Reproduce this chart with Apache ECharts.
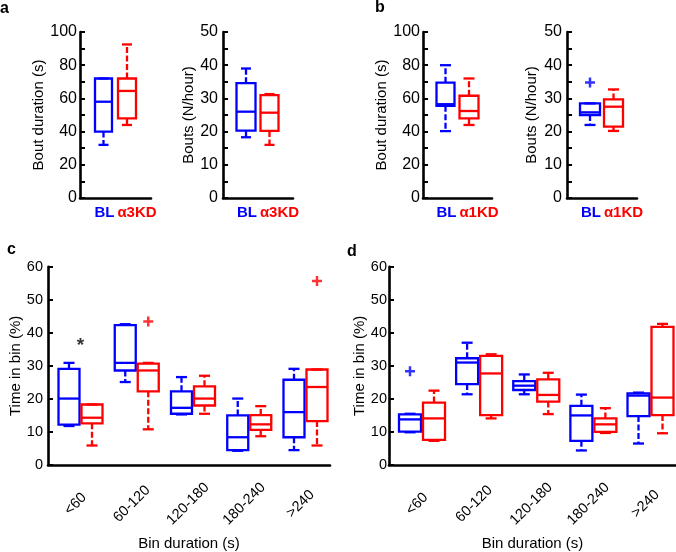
<!DOCTYPE html>
<html>
<head>
<meta charset="utf-8">
<script src="https://cdn.jsdelivr.net/npm/echarts@6/dist/echarts.min.js"></script>
<style>html,body{margin:0;padding:0;background:#fff;}#c{width:676px;height:552px;}</style>
</head>
<body>
<div id="c"></div>
<script>
// ---------- data: [min, q1, median, q3, max] ----------
const aCats = ['BL', 'α3KD'];
const bCats = ['BL', 'α1KD'];
const aDurBL = [32, 40, 58, 72, 72];
const aDurKD = [44, 48, 64.5, 72, 92.5];
const aBoutsBL = [18.3, 20.3, 26, 34.6, 39];
const aBoutsKD = [16, 20.2, 25.7, 31, 31.3];
const bDurBL = [40.3, 55.5, 56.5, 69.5, 80];
const bDurKD = [44, 48, 52.4, 61.6, 72];
const bBoutsBL = [22, 25, 25.8, 28.5, 28.5];
const bBoutsKD = [20.2, 21.5, 27.5, 29.7, 32.7];
const bBoutsBLOut = [34.8];

const binCats = ['<60', '60-120', '120-180', '180-240', '>240'];
const cBL = [
  [11.8, 12.2, 20.1, 29.1, 30.9],
  [25.1, 28.6, 30.9, 42.3, 42.6],
  [15.3, 15.5, 17.3, 22.3, 26.6],
  [4.3, 4.5, 8.4, 15.0, 20.1],
  [4.5, 8.4, 16.0, 25.8, 29.1]
];
const cKD = [
  [5.9, 12.6, 14.3, 18.3, 18.3],
  [10.8, 22.3, 28.6, 30.7, 30.9],
  [15.5, 18.0, 20.1, 23.8, 27.0],
  [8.7, 10.6, 12.3, 15.1, 17.8],
  [5.9, 13.3, 23.6, 28.9, 28.9]
];
const cKDOut = [[2, 43.4], [5, 55.7]];
const cStar = [[1, 37.3]];
const dBL = [
  [9.9, 10.1, 13.8, 15.3, 15.5],
  [21.4, 24.5, 31.0, 32.3, 37.0],
  [21.4, 22.7, 24.0, 25.4, 27.4],
  [4.4, 7.3, 15.0, 17.9, 21.3],
  [6.5, 14.8, 21.0, 21.7, 21.9]
];
const dKD = [
  [7.3, 7.6, 14.1, 18.9, 22.5],
  [14.1, 15.1, 27.7, 33.0, 33.5],
  [15.4, 19.2, 21.2, 25.9, 27.9],
  [9.7, 10.0, 12.3, 14.1, 17.2],
  [9.6, 15.1, 20.4, 41.8, 42.7]
];
const dBLOut = [[1, 28.4]];

// ---------- styling ----------
const FONT = '"Liberation Sans", Arial, Helvetica, sans-serif';
const BLUE = '#0000ff', RED = '#ff0000';
const LW = 2.3;

function boxRenderer(color, offset, boxW, capW) {
  return function (params, api) {
    const x = api.value(0);
    const p = [1, 2, 3, 4, 5].map(i => api.coord([x, api.value(i)]));
    const cx = p[0][0] + offset;
    const yMin = p[0][1], yQ1 = p[1][1], yMed = p[2][1], yQ3 = p[3][1], yMax = p[4][1];
    const st = { stroke: color, lineWidth: LW, fill: null };
    const dash = { stroke: color, lineWidth: LW, lineDash: [6, 2.5], fill: null };
    return {
      type: 'group',
      children: [
        { type: 'line', shape: { x1: cx, y1: yQ3, x2: cx, y2: yMax }, style: dash },
        { type: 'line', shape: { x1: cx, y1: yQ1, x2: cx, y2: yMin }, style: dash },
        { type: 'line', shape: { x1: cx - capW / 2, y1: yMax, x2: cx + capW / 2, y2: yMax }, style: st },
        { type: 'line', shape: { x1: cx - capW / 2, y1: yMin, x2: cx + capW / 2, y2: yMin }, style: st },
        { type: 'rect', shape: { x: cx - boxW / 2, y: yQ3, width: boxW, height: yQ1 - yQ3 }, style: st },
        { type: 'line', shape: { x1: cx - boxW / 2, y1: yMed, x2: cx + boxW / 2, y2: yMed }, style: st }
      ]
    };
  };
}

const PLUS = 'path://M3.75,0h2.5v3.75h3.75v2.5h-3.75v3.75h-2.5v-3.75h-3.75v-2.5h3.75z';

function boxSeries(gi, rows, color, offset, boxW, capW) {
  return {
    type: 'custom', xAxisIndex: gi, yAxisIndex: gi,
    renderItem: boxRenderer(color, offset, boxW, capW),
    encode: { x: 0, y: [1, 2, 3, 4, 5] },
    data: rows, silent: true
  };
}
function outSeries(gi, pts, color, offset) {
  return {
    type: 'scatter', xAxisIndex: gi, yAxisIndex: gi,
    symbol: PLUS, symbolSize: 10, symbolOffset: [offset, 0],
    itemStyle: { color: color }, data: pts, silent: true
  };
}

const grids = [
  { left: 80, top: 32, width: 71, height: 166 },
  { left: 223, top: 32, width: 70, height: 166 },
  { left: 423, top: 32, width: 69, height: 166 },
  { left: 567, top: 32, width: 70, height: 166 },
  { left: 48, top: 266.7, width: 282, height: 199 },
  { left: 389, top: 266.7, width: 287, height: 198.3 }
];

const axisLineStyle = { show: true, lineStyle: { color: '#000', width: 2.6 } };

function topX(gi, cats) {
  return {
    type: 'category', gridIndex: gi, data: [cats.join(' ')],
    axisLine: axisLineStyle, axisTick: { show: false }, splitLine: { show: false },
    axisLabel: {
      margin: 7, padding: [0, 0, 0, 20],
      formatter: () => '{b|' + cats[0] + '}{r|' + cats[1] + '}',
      rich: {
        b: { color: BLUE, fontWeight: 'bold', fontSize: 15, fontFamily: FONT },
        r: { color: RED, fontWeight: 'bold', fontSize: 15, fontFamily: FONT, padding: [0, 0, 0, 3] }
      }
    }
  };
}
function binX(gi, min, max) {
  return {
    type: 'value', gridIndex: gi, min: min, max: max,
    axisLine: axisLineStyle, axisTick: { show: false }, splitLine: { show: false },
    name: 'Bin duration (s)', nameLocation: 'middle', nameGap: 71,
    nameTextStyle: { fontSize: 15, fontFamily: FONT, color: '#000' },
    axisLabel: {
      customValues: [1, 2, 3, 4, 5],
      formatter: v => binCats[Math.round(v) - 1],
      rotate: 45, align: 'center', verticalAlign: 'middle',
      margin: 34, padding: [0, 14, 14, 0],
      fontSize: 14.5, fontFamily: FONT, color: '#000'
    }
  };
}
function yAx(gi, max, interval, every, name, nameGap, fs, margin) {
  return {
    type: 'value', gridIndex: gi, min: 0, max: max, interval: interval,
    axisLine: axisLineStyle,
    axisTick: { show: true, inside: true, length: 5, lineStyle: { color: '#000', width: 2 } },
    splitLine: { show: false },
    axisLabel: {
      margin: margin, fontSize: fs, fontFamily: FONT, color: '#000',
      formatter: v => (Math.round(v) % every === 0 ? String(v) : '')
    },
    name: name, nameLocation: 'middle', nameGap: nameGap,
    nameTextStyle: { fontSize: 15, fontFamily: FONT, color: '#000' }
  };
}

const TOP_B = -12, TOP_R = 11.5;
const option = {
  animation: false,
  backgroundColor: '#fff',
  grid: grids,
  xAxis: [
    topX(0, aCats), topX(1, aCats), topX(2, bCats), topX(3, bCats),
    binX(4, 0.4222, 5.4356), binX(5, 0.4223, 5.4463)
  ],
  yAxis: [
    yAx(0, 100, 10, 20, 'Bout duration (s)', 27, 16, 3),
    yAx(1, 50, 5, 10, 'Bouts (N/hour)', 26, 16, 5),
    yAx(2, 100, 10, 20, 'Bout duration (s)', 29, 16, 3),
    yAx(3, 50, 5, 10, 'Bouts (N/hour)', 28, 16, 5),
    yAx(4, 60, 10, 10, 'Time in bin (%)', 25, 14.5, 5),
    yAx(5, 60, 10, 10, 'Time in bin (%)', 21, 14.5, 2)
  ],
  series: [
    boxSeries(0, [[0].concat(aDurBL)], BLUE, TOP_B, 17, 10),
    boxSeries(0, [[0].concat(aDurKD)], RED, TOP_R, 18, 10),
    boxSeries(1, [[0].concat(aBoutsBL)], BLUE, TOP_B, 19, 10),
    boxSeries(1, [[0].concat(aBoutsKD)], RED, TOP_R, 18, 10),
    boxSeries(2, [[0].concat(bDurBL)], BLUE, TOP_B, 18, 11),
    boxSeries(2, [[0].concat(bDurKD)], RED, TOP_R, 19, 11),
    boxSeries(3, [[0].concat(bBoutsBL)], BLUE, TOP_B, 20, 11),
    boxSeries(3, [[0].concat(bBoutsKD)], RED, TOP_R, 19, 11),
    outSeries(3, bBoutsBLOut.map(v => [0, v]), BLUE, TOP_B),
    boxSeries(4, cBL.map((r, i) => [i + 1].concat(r)), BLUE, -11.5, 21, 11),
    boxSeries(4, cKD.map((r, i) => [i + 1].concat(r)), RED, 11.5, 21, 11),
    outSeries(4, cKDOut, RED, 11.5),
    {
      type: 'scatter', xAxisIndex: 4, yAxisIndex: 4, symbolSize: 0.1,
      itemStyle: { color: 'rgba(0,0,0,0)' }, data: cStar, silent: true,
      label: { show: true, position: 'inside', formatter: '*', offset: [0, 4],
        fontSize: 19, fontWeight: 'bold', fontFamily: FONT, color: '#000' }
    },
    boxSeries(5, dBL.map((r, i) => [i + 1].concat(r)), BLUE, -12, 22, 11),
    boxSeries(5, dKD.map((r, i) => [i + 1].concat(r)), RED, 12, 22, 11),
    outSeries(5, dBLOut, BLUE, -12)
  ],
  graphic: [
    { type: 'text', left: 0, top: 1, style: { text: 'a', fontSize: 16, fontWeight: 'bold', fontFamily: FONT, fill: '#000' } },
    { type: 'text', left: 375, top: 0, style: { text: 'b', fontSize: 16, fontWeight: 'bold', fontFamily: FONT, fill: '#000' } },
    { type: 'text', left: 7, top: 242, style: { text: 'c', fontSize: 16, fontWeight: 'bold', fontFamily: FONT, fill: '#000' } },
    { type: 'text', left: 347, top: 244, style: { text: 'd', fontSize: 16, fontWeight: 'bold', fontFamily: FONT, fill: '#000' } }
  ]
};

const chart = echarts.init(document.getElementById('c'), null, { renderer: 'canvas' });
chart.setOption(option);
</script>
</body>
</html>
